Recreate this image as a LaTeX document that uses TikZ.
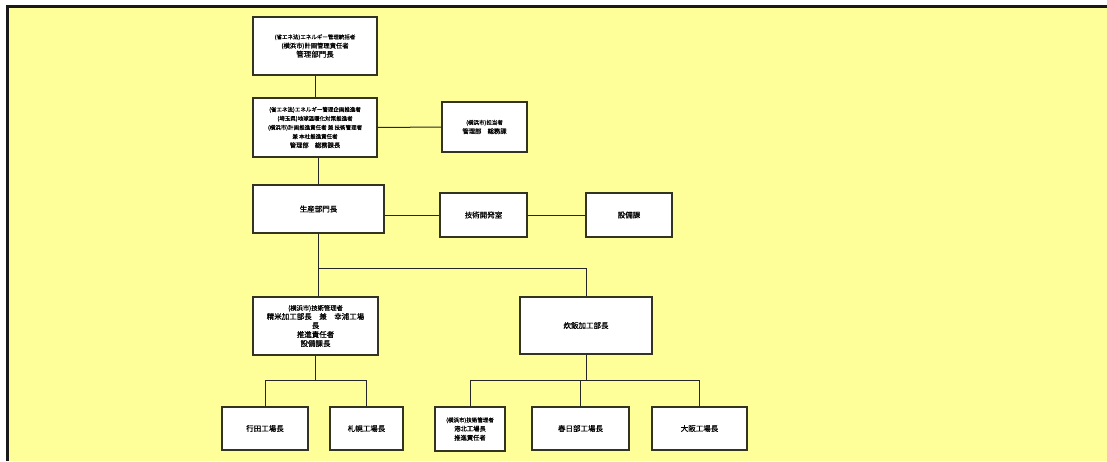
\documentclass[tikz,border=0pt]{standalone}
\usepackage{fontspec}
\newfontfamily\jp[FakeBold=0.7]{Noto Sans CJK JP}
\definecolor{bgyellow}{HTML}{FFFF99}
\definecolor{boxline}{HTML}{333322}
\tikzset{
  orgbox/.style={draw=boxline, line width=1.3pt, fill=white, align=center, inner sep=1pt, font=\jp\fontsize{7.5}{9}\selectfont},
  conn/.style={draw=black!85, line width=1pt},
}
\newcommand{\sm}[1]{{\fontsize{5.5}{6.5}\selectfont #1}}
\newcommand{\md}[1]{{\fontsize{6.3}{7.3}\selectfont #1}}
\begin{document}
\begin{tikzpicture}[x=1pt,y=-1pt]
\useasboundingbox (0,0) rectangle (1107,461);
\fill[white] (0,0) rectangle (1107,461);
\fill[bgyellow] (7,6) rectangle (1107,461);
\fill[black!90] (6,5) rectangle (1107,7.5);
\fill[black!90] (6,5) rectangle (8.5,461);

\node[orgbox, minimum width=124pt, minimum height=58pt] (b1) at (315,46)
  {\sm{(省エネ法)エネルギー管理統括者}\\\md{(横浜市)計画管理責任者}\\管理部門長};
\node[orgbox, minimum width=124pt, minimum height=59pt] (b2) at (315,127.5)
  {\sm{(省エネ法)エネルギー管理企画推進者}\\\sm{(埼玉県)地球温暖化対策推進者}\\\sm{(横浜市)計画推進責任者 兼 技術管理者}\\\sm{兼 本社推進責任者}\\\md{管理部　総務課長}};
\node[orgbox, minimum width=85pt, minimum height=50pt] (b3) at (484.5,127)
  {\sm{(横浜市)担当者}\\\md{管理部　総務課}};
\node[orgbox, minimum width=131pt, minimum height=48pt] (b4) at (318.5,209) {生産部門長};
\node[orgbox, minimum width=87pt, minimum height=44pt] (b5) at (483.5,215) {技術開発室};
\node[orgbox, minimum width=86pt, minimum height=44pt] (b6) at (629,215) {設備課};
\node[orgbox, minimum width=125pt, minimum height=58pt] (b7) at (315.5,326)
  {\md{(横浜市)技術管理者}\\精米加工部長　兼　幸浦工場\\長\\推進責任者\\設備課長};
\node[orgbox, minimum width=132pt, minimum height=57pt] (b8) at (586,325.5) {炊飯加工部長};
\node[orgbox, minimum width=86pt, minimum height=43pt] (b9) at (265,428.5) {行田工場長};
\node[orgbox, minimum width=73pt, minimum height=43pt] (b10) at (366.5,428.5) {札幌工場長};
\node[orgbox, minimum width=70pt, minimum height=44pt] (b11) at (470,429) {\sm{(横浜市)技術管理者}\\\md{港北工場長}\\\md{推進責任者}};
\node[orgbox, minimum width=97pt, minimum height=43pt] (b12) at (580.5,428.5) {春日部工場長};
\node[orgbox, minimum width=95pt, minimum height=43pt] (b13) at (699.5,428.5) {大阪工場長};

\coordinate (j1) at (318,268);
\coordinate (j2) at (315.5,380);
\coordinate (j3) at (586,380);

\draw[conn] (b1.south) -- (b2.north);
\draw[conn] (b2.south -| b4.north) -- (b4.north);
\draw[conn] (b2.east) -- (b3.west);
\draw[conn] (b4.east |- b5.west) -- (b5.west);
\draw[conn] (b5.east) -- (b6.west);
\draw[conn] (b4.south -| j1) -- (j1) -- (j1 -| b8.north) -- (b8.north);
\draw[conn] (j1) -- (j1 |- b7.north);
\draw[conn] (b7.south) -- (j2);
\draw[conn] (b9.north) -- (b9.north |- j2) -- (b10.north |- j2) -- (b10.north);
\draw[conn] (b8.south) -- (j3);
\draw[conn] (b11.north) -- (b11.north |- j3) -- (b13.north |- j3) -- (b13.north);
\draw[conn] (b12.north) -- (b12.north |- j3);
\end{tikzpicture}
\end{document}
